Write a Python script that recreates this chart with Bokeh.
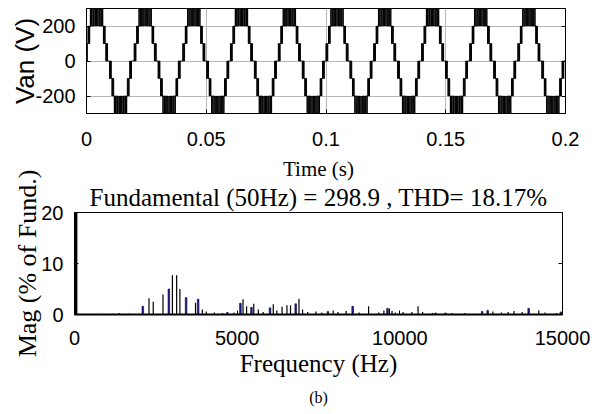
from bokeh.plotting import figure
from bokeh.models import Range1d, FixedTicker, LinearAxis, Title
from bokeh.embed import file_html
from bokeh.resources import INLINE

# ---------------- data: top panel (phase voltage Van) ----------------
time_ticks = [0, 0.05, 0.1, 0.15, 0.2]
time_tick_labels = ["0", "0.05", "0.1", "0.15", "0.2"]
volt_ticks = [-200, 0, 200]
volt_tick_labels = ["-200", "0", "200"]

# times of the positive peaks (s)
peak_times_s = [0.0042, 0.0245, 0.0448, 0.0647, 0.0847, 0.1046, 0.1245, 0.1445, 0.1646, 0.1847]
half_cycle_ms = 10.0
# switching instants of one positive half-cycle (ms from its peak) and the level after each switch (V)
switch_offsets_ms = [-5.00, -4.60, -4.45, -4.20, -4.05, -3.85,
                     -3.55, -3.45, -3.20, -3.05, -2.85,
                     -2.60, -2.50, -2.10, -1.90, -1.55, -1.25, -1.00, -0.62, -0.45, -0.05,
                     0.05, 0.45, 0.62, 1.00, 1.25, 1.55, 1.90, 2.10, 2.50, 2.60,
                     2.85, 3.05, 3.20, 3.45, 3.55,
                     3.85, 4.05, 4.20, 4.45, 4.60]
switch_levels_v = [0, 100, 0, 100, 0, 100,
                   200, 100, 200, 100, 200,
                   300, 200, 300, 200, 300, 200, 300, 200, 300, 200,
                   300, 200, 300, 200, 300, 200, 300, 200, 300, 200,
                   100, 200, 100, 200, 100,
                   0, 100, 0, 100, 0]

# ---------------- data: bottom panel (FFT spectrum) ----------------
freq_ticks = [0, 5000, 10000, 15000]
freq_tick_labels = ["0", "5000", "10000", "15000"]
mag_ticks = [0, 10, 20]
mag_tick_labels = ["0", "10", "20"]

fund_freq_hz = [50]
fund_mag_pct = [100]

black_freq_hz = [400, 800, 1200, 1380, 1650, 2290, 2420, 2720, 3010, 3140, 3240, 3720, 3930, 4050, 4300,
                 4550, 4900, 5180, 5290, 5510, 5650, 5800, 6110, 6220, 6380, 6530, 6640, 6900, 7010,
                 7170, 7420, 7600, 7950, 8100, 8350, 8750, 9040, 9350, 9510, 9680, 9760, 9860, 10100,
                 10370, 10560, 10700, 11000, 11600, 12000, 12860, 13120, 13330, 13510, 13760, 14270,
                 14460, 14820]
black_mag_pct = [0.1, 0.15, 0.15, 0.3, 0.2, 3.2, 2.5, 3.9, 7.7, 7.7, 5.0, 2.3, 1.0, 0.6, 0.4,
                 0.3, 0.4, 3.0, 1.6, 2.1, 1.0, 0.5, 2.0, 0.8, 1.5, 1.8, 1.8, 3.1, 1.0,
                 0.5, 0.6, 0.4, 0.8, 0.5, 0.7, 0.4, 1.6, 0.4, 0.8, 1.2, 0.7, 0.4, 0.5,
                 0.5, 1.6, 0.5, 0.3, 0.3, 0.3, 0.6, 0.4, 0.5, 0.7, 0.5, 0.8,
                 0.4, 0.3]

blue_freq_hz = [2100, 2900, 3430, 3800, 4700, 5100, 5440, 6010, 6800, 7790, 8550, 9620,
                11100, 11400, 12530, 12700, 13960, 14950]
blue_mag_pct = [1.6, 5.0, 3.3, 3.0, 0.4, 2.2, 1.4, 1.3, 2.1, 0.6, 1.6, 1.2,
                0.3, 0.3, 0.6, 0.8, 1.2, 0.5]

SANS = "Liberation Sans"
SERIF = "Liberation Serif"


def style_axes(p, xt, xl, yt, yl, xstand, ystand):
    xa, ya = p.below[0], p.left[0]
    xa.ticker = FixedTicker(ticks=xt)
    xa.major_label_overrides = {t: l for t, l in zip(xt, xl)}
    ya.ticker = FixedTicker(ticks=yt)
    ya.major_label_overrides = {t: l for t, l in zip(yt, yl)}
    for ax in (xa, ya):
        ax.major_label_text_font = SANS
        ax.major_label_text_font_size = "20px"
        ax.major_label_text_color = "black"
        ax.axis_line_color = "black"
        ax.major_tick_line_color = "black"
        ax.major_tick_in = 4
        ax.major_tick_out = 0
        ax.minor_tick_line_color = None
        ax.axis_label_text_color = "black"
        ax.axis_label_text_font_style = "normal"
    xa.major_label_standoff = xstand
    ya.major_label_standoff = ystand
    right = LinearAxis(ticker=FixedTicker(ticks=yt),
                       major_label_overrides={t: "" for t in yt},
                       major_tick_in=4, major_tick_out=0, minor_tick_line_color=None,
                       axis_line_color="black", major_label_standoff=0)
    p.add_layout(right, "right")
    p.outline_line_color = "black"
    p.outline_line_alpha = 1.0
    p.background_fill_color = "white"
    p.border_fill_color = "white"
    return xa, ya


# ---------------- top figure ----------------
p1 = figure(width=592, height=154, x_range=Range1d(0, 0.2), y_range=Range1d(-300, 300),
            output_backend="svg", toolbar_location=None,
            min_border_left=86, min_border_right=27, min_border_top=8, min_border_bottom=41)
xa1, ya1 = style_axes(p1, time_ticks, time_tick_labels, volt_ticks, volt_tick_labels, 18, 11)
p1.xgrid.grid_line_color = "#b8b8b8"
p1.ygrid.grid_line_color = "#b8b8b8"
ya1.axis_label = "Van (V)"
ya1.axis_label_text_font = SANS
ya1.axis_label_text_font_size = "26px"
ya1.axis_label_standoff = -8

t_edges, v_edges = [], []
for pk in peak_times_s:
    for sign, center in ((1, pk), (-1, pk + half_cycle_ms / 1000.0)):
        for off, lev in zip(switch_offsets_ms, switch_levels_v):
            t_edges.append(center + off / 1000.0)
            v_edges.append(sign * lev)
t_edges.append(0.2)
v_edges.append(0)
p1.step(t_edges, v_edges, mode="after", line_color="black", line_width=1)

# ---------------- bottom figure ----------------
p2 = figure(width=592, height=260, x_range=Range1d(0, 15000), y_range=Range1d(0, 20),
            output_backend="svg", toolbar_location=None,
            min_border_left=74, min_border_right=30, min_border_top=58, min_border_bottom=100)
xa2, ya2 = style_axes(p2, freq_ticks, freq_tick_labels, mag_ticks, mag_tick_labels, 16, 11)
p2.grid.grid_line_color = None
xa2.axis_line_width = 2
ya2.axis_label = "Mag (% of Fund.)"
ya2.axis_label_text_font = SERIF
ya2.axis_label_text_font_size = "26px"
ya2.axis_label_standoff = -4
xa2.axis_label = "Frequency (Hz)"
xa2.axis_label_text_font = SERIF
xa2.axis_label_text_font_size = "25px"
xa2.axis_label_standoff = 2

p2.add_layout(Title(text="Fundamental (50Hz) = 298.9 , THD= 18.17%", align="center", offset=-4,
                    text_font=SERIF, text_font_size="25px", text_font_style="normal",
                    text_color="black", standoff=3), "above")
p2.add_layout(Title(text="Time (s)", align="center", offset=-13,
                    text_font=SERIF, text_font_size="21px", text_font_style="normal",
                    text_color="black", standoff=0), "above")
p2.add_layout(Title(text="(b)", align="center", offset=-22,
                    text_font=SERIF, text_font_size="16px", text_font_style="normal",
                    text_color="black", standoff=15), "below")

p2.segment(x0=black_freq_hz, y0=[0] * len(black_freq_hz), x1=black_freq_hz, y1=black_mag_pct,
           line_color="black", line_width=1.2)
p2.vbar(x=blue_freq_hz, top=blue_mag_pct, width=50, fill_color="#1c1c8a",
        line_color="#000033", line_width=0.6)
p2.segment(x0=fund_freq_hz, y0=[0], x1=fund_freq_hz, y1=fund_mag_pct,
           line_color="black", line_width=2.5)

open("out.html", "w").write(file_html([p1, p2], INLINE))
